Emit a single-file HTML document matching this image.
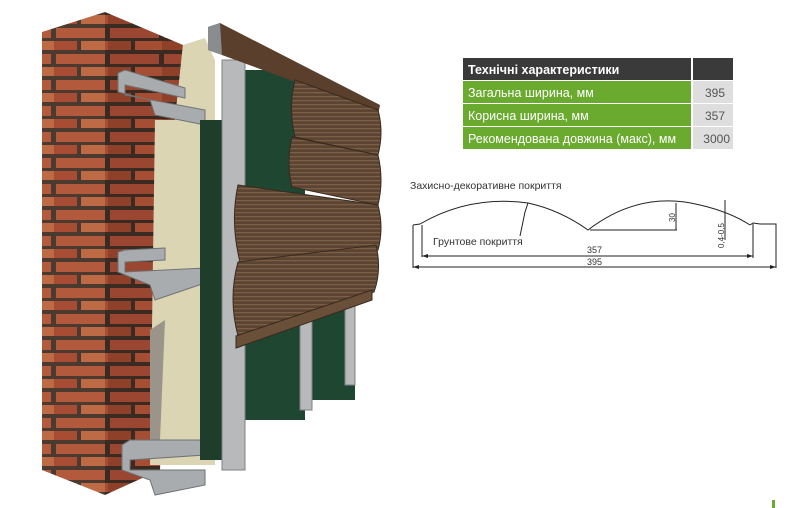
<!DOCTYPE html>
<html><head><meta charset="utf-8"><style>
html,body{margin:0;padding:0;background:#fff;}
body{width:792px;height:508px;position:relative;overflow:hidden;font-family:"Liberation Sans","DejaVu Sans",sans-serif;}
svg{position:absolute;left:0;top:0;}
</style></head><body>
<svg width="792" height="508" viewBox="0 0 792 508" xmlns="http://www.w3.org/2000/svg">
<defs>
<pattern id="brick" width="54" height="26" patternUnits="userSpaceOnUse">
<rect width="54" height="26" fill="#4a3a30"/>
<rect x="2" y="2" width="49" height="10" fill="#b35a3c"/>
<rect x="-25" y="15" width="48" height="9" fill="#a84d34"/>
<rect x="27" y="15" width="48" height="9" fill="#bd6a45"/>
</pattern>
<pattern id="brick2" width="54" height="26" patternUnits="userSpaceOnUse">
<rect width="54" height="26" fill="#3a2a22"/>
<rect x="2" y="2" width="49" height="10" fill="#9a4630"/>
<rect x="-25" y="15" width="48" height="9" fill="#8e4029"/>
<rect x="27" y="15" width="48" height="9" fill="#a54e33"/>
</pattern>
<pattern id="wood" width="10" height="4" patternUnits="userSpaceOnUse">
<rect width="10" height="4" fill="#5c4432"/>
<rect y="0" width="10" height="1.3" fill="#7a5e46"/>
</pattern>
</defs>
<polygon points="42,32 105,12 105,495 42,470" fill="url(#brick)"/>
<polygon points="105,12 183,45 175,120 160,470 105,495" fill="url(#brick2)"/>
<polygon points="183,45 205,38 215,60 215,465 150,465 155,120 175,120" fill="#dcd5b3"/>
<polygon points="150,330 165,320 160,440 150,440" fill="#9a948a"/>
<g fill="#a9acae" stroke="#6f7275" stroke-width="1">
<polygon points="118,73 125,70 185,88 185,98 125,85 125,95 205,110 205,125 155,115 150,100 118,92"/>
<polygon points="118,252 125,250 165,248 165,260 125,262 125,272 205,268 205,283 155,300 150,285 118,272"/>
<polygon points="122,445 130,440 200,440 205,455 130,460 130,470 205,470 205,485 155,495 150,480 122,470"/>
</g>
<rect x="200" y="120" width="22" height="340" fill="#1f3d2b"/>
<rect x="245" y="70" width="60" height="350" fill="#1e4630"/>
<rect x="305" y="300" width="50" height="100" fill="#1e4630"/>
<rect x="222" y="60" width="23" height="410" fill="#b7b9bb" stroke="#7d8083"/>
<rect x="300" y="310" width="12" height="100" fill="#b7b9bb" stroke="#7d8083"/>
<rect x="345" y="295" width="10" height="90" fill="#b7b9bb" stroke="#7d8083"/>
<polygon points="208,27 220,23 380,105 378,115 290,80 222,55 208,50" fill="#5a3f2c"/>
<polygon points="208,27 220,23 222,55 208,50" fill="#8a8d8f"/>
<g stroke="#3a2a1e" stroke-width="1">
<path d="M295,80 L378,110 Q384,132 378,155 L295,137 Q288,108 295,80Z" fill="url(#wood)"/>
<path d="M292,137 L378,155 Q384,180 378,205 L292,187 Q286,162 292,137Z" fill="url(#wood)"/>
<path d="M238,185 L378,205 Q384,228 378,250 L240,262 Q230,222 238,185Z" fill="url(#wood)"/>
<path d="M238,262 L376,245 Q382,270 374,292 L238,336 Q228,298 238,262Z" fill="url(#wood)"/>
<polygon points="236,336 372,290 372,300 236,348" fill="#6a5039"/>
</g>
<rect x="463" y="58" width="228" height="22" fill="#3a3a3a"/>
<rect x="693" y="58" width="40" height="22" fill="#3a3a3a"/>
<rect x="463" y="81" width="228" height="22" fill="#6aaa2e"/>
<rect x="693" y="81" width="40" height="22" fill="#dedede"/>
<rect x="463" y="104" width="228" height="22" fill="#6aaa2e"/>
<rect x="693" y="104" width="40" height="22" fill="#dedede"/>
<rect x="463" y="127" width="228" height="22" fill="#6aaa2e"/>
<rect x="693" y="127" width="40" height="22" fill="#dedede"/>
<g font-size="12.5" fill="#fff">
<text x="468" y="74" font-weight="bold">Технічні характеристики</text>
<text x="468" y="97">Загальна ширина, мм</text>
<text x="468" y="120">Корисна ширина, мм</text>
<text x="468" y="143">Рекомендована довжина (макс), мм</text>
</g>
<g font-size="12" fill="#555" text-anchor="end">
<text x="725" y="97">395</text><text x="725" y="120">357</text><text x="730" y="143">3000</text>
</g>
<g fill="none" stroke="#222" stroke-width="1">
<path d="M413,225 L420,224 Q470,195 528,203 Q560,210 588,230 Q640,190 700,205 Q730,212 750,225"/>
<path d="M413,225 L413,268"/>
<path d="M422,225 L422,257"/>
<path d="M750,225 L753,223 L760,224 L773,224 L776,224 L776,268"/>
<path d="M753,224 L753,258"/>
<path d="M590,230 L677,230"/>
<path d="M676,203 L676,230"/>
<path d="M725,200 L725,240"/>
<path d="M528,203 L525,212 L520,236"/>
<path d="M422,256 L753,256"/><path d="M413,267 L776,267"/>
</g>
<g fill="#222">
<polygon points="422,256 428,254 428,258"/><polygon points="753,256 747,254 747,258"/>
<polygon points="413,267 419,265 419,269"/><polygon points="776,267 770,265 770,269"/>
</g>
<g font-size="10.5" fill="#333">
<text x="410" y="189">Захисно-декоративне покриття</text>
<text x="433" y="245">Грунтове покриття</text>
<text x="587" y="253" font-size="9">357</text>
<text x="587" y="265" font-size="9">395</text>
<text transform="translate(675,222) rotate(-90)" font-size="8">30</text>
<text transform="translate(724,248) rotate(-90)" font-size="8">0,4-0,5</text>
</g>
<rect x="772" y="500" width="3" height="8" fill="#6aaa2e"/>
</svg>
</body></html>
